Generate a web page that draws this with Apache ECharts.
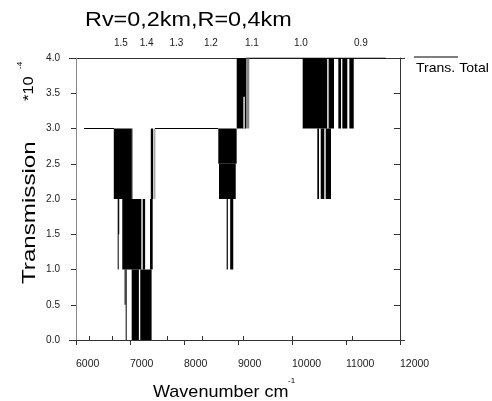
<!DOCTYPE html>
<html>
<head>
<meta charset="utf-8">
<script src="https://cdn.jsdelivr.net/npm/echarts@6/dist/echarts.min.js"></script>
<style>
html, body { margin: 0; padding: 0; background: #fff; }
#chart { width: 492px; height: 401px; }
</style>
</head>
<body>
<div id="chart"></div>
<script>
// bottom axis (wavenumber, cm-1)
var wnMin = 6000, wnMax = 12000, wnStep = 1000;
// top axis (wavelength, um)
var umTicks = [1.6, 1.5, 1.4, 1.3, 1.2, 1.1, 1.0, 0.9];
var umLabels = [1.5, 1.4, 1.3, 1.2, 1.1, 1.0, 0.9];

// envelope line of Trans. Total (null = gap)
var lineWn  = [6150, 6704, 6705, 7463, 8635, 8636, 9148, 11735];
var lineVal = [3,    3,    null, 3,    3,    null, 4,    4];

// dense oscillation blocks: [from, to] in cm-1, [low, high] in 1e-4
var blockFrom = [6700, 7035, 7385, 7450,
                 6772, 6782, 6857, 7235, 7370,
                 6900, 6920, 7031, 7190,
                 8635, 8648, 8790, 8855,
                 8976, 9148, 9100,
                 10198, 10678, 10858, 10932, 11062,
                 10469, 10532, 10624];
var blockTo   = [7035, 7045, 7430, 7469,
                 6780, 6795, 7210, 7280, 7420,
                 6908, 6927, 7165, 7400,
                 8975, 8958, 8812, 8912,
                 9148, 9209, 9125,
                 10652, 10778, 10908, 11024, 11143,
                 10500, 10598, 10722];
var blockLow  = [2, 2, 2, 2,
                 1, 1.5, 1, 1, 1,
                 0.5, 0, 0, 0,
                 2.5, 2, 1, 1,
                 3, 3, 3.0,
                 3, 3, 3, 3, 3,
                 2, 2, 2];
var blockHigh = [3, 3, 3, 3,
                 2, 2, 2, 2, 2,
                 1, 1, 1, 1,
                 3, 2.5, 2, 2,
                 4, 4, 3.45,
                 4, 4, 4, 4, 4,
                 3, 3, 3];
var blockShade = ['k', 'g', 'k', 'g',
                  'k', 'k', 'k', 'k', 'k',
                  'k', 'k', 'k', 'k',
                  'k', 'k', 'k', 'k',
                  'k', 'g', 'w',
                  'k', 'k', 'k', 'k', 'k',
                  'k', 'k', 'k'];
var shadeColors = { k: '#000', g: '#8a8a8a', w: '#fff' };

var chart = echarts.init(document.getElementById('chart'), null, { renderer: 'canvas' });

var lineData = [];
for (var i = 0; i < lineWn.length; i++) {
    lineData.push([lineWn[i], lineVal[i] === null ? '-' : lineVal[i]]);
}
var blockData = [];
for (var j = 0; j < blockFrom.length; j++) {
    blockData.push([blockFrom[j], blockTo[j], blockLow[j], blockHigh[j]]);
}
var topTickWn = umTicks.map(function (u) { return 1e4 / u; });
var topLabelWn = umLabels.map(function (u) { return 1e4 / u; });

var font = 'Liberation Sans, Arial, sans-serif';

var option = {
    animation: false,
    backgroundColor: '#fff',
    textStyle: { fontFamily: font },
    grid: { left: 76, right: 92, top: 58, bottom: 61 },
    xAxis: [{
        type: 'value', position: 'bottom',
        min: wnMin, max: wnMax, interval: wnStep,
        axisLine: { lineStyle: { color: '#333', width: 1 } },
        axisTick: { length: 5, lineStyle: { color: '#333' } },
        axisLabel: { align: 'left', margin: 19, fontSize: 10.5, color: '#222', fontFamily: font,
            formatter: function (v) { return String(v); } },
        splitLine: { show: false }
    }, {
        type: 'value', position: 'top',
        min: wnMin, max: wnMax,
        axisLine: { lineStyle: { color: '#333', width: 1 } },
        axisTick: { length: 4, customValues: topTickWn, lineStyle: { color: '#333' } },
        axisLabel: {
            customValues: topLabelWn, align: 'left', margin: 10, fontSize: 10, color: '#222', fontFamily: font,
            padding: [0, 0, 0, 2],
            formatter: function (v) { return (Math.round(1e5 / v) / 10).toFixed(1); }
        },
        splitLine: { show: false }
    }],
    yAxis: [{
        type: 'value', position: 'left',
        min: 0, max: 4, interval: 0.5,
        axisLine: { show: true, lineStyle: { color: '#888', width: 1 } },
        axisTick: { show: true, length: 5, lineStyle: { color: '#333' } },
        axisLabel: { margin: 16, fontSize: 10, color: '#222', fontFamily: font, padding: [9, 0, 0, 0],
            formatter: function (v) { return v.toFixed(1); } },
        splitLine: { show: false }
    }, {
        type: 'value', position: 'right',
        min: 0, max: 4, interval: 0.5,
        axisLine: { show: true, lineStyle: { color: '#333', width: 1 } },
        axisTick: { show: true, inside: true, length: 6, lineStyle: { color: '#333' } },
        axisLabel: { show: false },
        splitLine: { show: false }
    }],
    graphic: [
        // title
        { type: 'text', x: 85, y: 20, scaleX: 1.17, style: { text: 'Rv=0,2km,R=0,4km', font: '20px ' + font, fill: '#000', verticalAlign: 'middle' } },
        // y axis title
        { type: 'text', x: 21, y: 284, rotation: Math.PI / 2, scaleX: 1.38, style: { text: 'Transmission', font: '17.5px ' + font, fill: '#000', verticalAlign: 'top' } },
        { type: 'text', x: 21, y: 101, rotation: Math.PI / 2, scaleX: 1.1, style: { text: '*10', font: '15px ' + font, fill: '#000', verticalAlign: 'top' } },
        { type: 'text', x: 16, y: 69, rotation: Math.PI / 2, style: { text: '-4', font: '8px ' + font, fill: '#000', verticalAlign: 'top' } },
        // x axis title
        { type: 'text', x: 153, y: 392, scaleX: 1.06, style: { text: 'Wavenumber cm', font: '17px ' + font, fill: '#000', verticalAlign: 'middle' } },
        { type: 'text', x: 288, y: 381, style: { text: '-1', font: '8px ' + font, fill: '#000', verticalAlign: 'middle' } },
        // frame overhang
        { type: 'line', shape: { x1: 69, y1: 340.5, x2: 405, y2: 340.5 }, style: { stroke: '#333', lineWidth: 1 } },
        { type: 'line', shape: { x1: 69, y1: 58.5, x2: 405, y2: 58.5 }, style: { stroke: '#333', lineWidth: 1 } },
        // legend
        { type: 'line', shape: { x1: 414, y1: 57, x2: 458, y2: 57 }, style: { stroke: '#000', lineWidth: 1 } },
        { type: 'text', x: 416, y: 68, scaleX: 1.08, style: { text: 'Trans. Total', font: '13px ' + font, fill: '#000', verticalAlign: 'middle' } }
    ],
    series: [{
        name: 'Trans. Total', type: 'line',
        xAxisIndex: 0, yAxisIndex: 0,
        data: lineData, showSymbol: false, connectNulls: false,
        lineStyle: { color: '#000', width: 1 }
    }, {
        type: 'custom',
        xAxisIndex: 0, yAxisIndex: 0,
        data: blockData,
        encode: { x: [0, 1], y: [2, 3] },
        renderItem: function (params, api) {
            var p0 = api.coord([api.value(0), api.value(3)]);
            var p1 = api.coord([api.value(1), api.value(2)]);
            return {
                type: 'rect',
                shape: { x: p0[0], y: p0[1], width: Math.max(p1[0] - p0[0], 1), height: p1[1] - p0[1] },
                style: { fill: shadeColors[blockShade[params.dataIndex]] }
            };
        }
    }]
};
chart.setOption(option);
</script>
</body>
</html>
